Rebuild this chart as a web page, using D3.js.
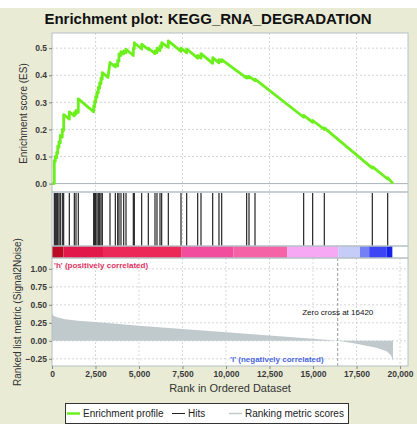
<!DOCTYPE html>
<html>
<head>
<meta charset="utf-8">
<script src="https://cdn.jsdelivr.net/npm/d3@7"></script>
<style>
  html, body { margin: 0; padding: 0; background: #fff; }
  svg { display: block; font-family: "Liberation Sans", Arial, sans-serif; }
</style>
</head>
<body>
<div id="chart"></div>
<script>
// running enrichment score (rank, ES)
const esRanks = [0, 132, 132, 190, 190, 270, 270, 328, 328, 402, 402, 477, 477, 592, 592, 672, 672,
    994, 994, 1282, 1282, 1379, 1379, 1511, 1511, 2396, 2396, 2454, 2454, 2511, 2511, 2586, 2586,
    2661, 2661, 2741, 2741, 2816, 2816, 2891, 2891, 3218, 3333, 3638, 3638, 3776, 3776, 3850, 3850,
    3965, 3965, 4121, 4121, 4253, 4253, 4672, 4672, 4730, 4730, 5155, 5155, 5534, 5534, 5919, 5919,
    6034, 6034, 6207, 6207, 6304, 6304, 6684, 6684, 7414, 7414, 7741, 7741, 8374, 8374, 8563, 8563,
    9236, 9236, 9597, 9597, 9753, 9753, 11189, 11189, 11322, 11322, 11667, 11667, 14465, 14465,
    14982, 14982, 15649, 15649, 18408, 18408, 19293, 19293, 19600];
const esScores = [0, 0, 0.085, 0.082, 0.10, 0.096, 0.115, 0.112, 0.138, 0.134, 0.155, 0.151, 0.178, 0.172, 0.20, 0.196, 0.255,
    0.238, 0.265, 0.25, 0.262, 0.257, 0.27, 0.263, 0.313, 0.265, 0.286, 0.283, 0.304, 0.301, 0.322, 0.318, 0.339,
    0.335, 0.356, 0.352, 0.373, 0.369, 0.39, 0.386, 0.41, 0.392, 0.447, 0.431, 0.44, 0.434, 0.455, 0.452, 0.479,
    0.473, 0.487, 0.479, 0.49, 0.483, 0.496, 0.473, 0.50, 0.497, 0.52, 0.497, 0.515, 0.495, 0.50, 0.48, 0.49,
    0.484, 0.50, 0.491, 0.508, 0.503, 0.52, 0.503, 0.527, 0.488, 0.50, 0.483, 0.497, 0.463, 0.473, 0.463, 0.48,
    0.444, 0.465, 0.446, 0.458, 0.45, 0.458, 0.389, 0.396, 0.39, 0.396, 0.38, 0.386, 0.245, 0.252,
    0.226, 0.233, 0.2, 0.206, 0.057, 0.063, 0.017, 0.022, 0];

// positions of gene set members in the ranked list
const hits = [132, 190, 270, 328, 402, 477, 592, 672, 994, 1282, 1379, 1511, 2396, 2454, 2511, 2586,
    2661, 2741, 2816, 2891, 3333, 3638, 3776, 3850, 3965, 4121, 4253, 4672, 4730, 5155, 5534, 5919,
    6034, 6207, 6304, 6684, 7414, 7741, 8374, 8563, 9236, 9597, 9753, 11189, 11322, 11667, 14465,
    14982, 15649, 18408, 19293];

// ranked list metric (signal2noise) along the list
const metricRanks = [0, 60, 250, 750, 1500, 2500, 5000, 7500, 10000, 12500, 15000, 16420, 17500, 18700, 19250, 19480, 19580, 19600];
const metricValues = [0.39, 0.35, 0.33, 0.30, 0.28, 0.26, 0.21, 0.165, 0.12, 0.075, 0.03, 0, -0.04, -0.1, -0.15, -0.2, -0.27, -0.27];

// heat bar segment edges along the rank axis
const barEdges = [0, 660, 2930, 7450, 10420, 13520, 16450, 17700, 18230, 19230, 19560];

const zeroCross = 16420;
const xTicks = [0, 2500, 5000, 7500, 10000, 12500, 15000, 17500, 20000];
const esGridX = [2500, 7500, 12500, 17500];
const esTicks = [0, 0.1, 0.2, 0.3, 0.4, 0.5];
const metricTicks = [-0.25, 0, 0.25, 0.5, 0.75, 1];

const barColors = ["#bc0a24", "#e3184a", "#ec2858", "#f24c9e", "#f562a6", "#f6a8f4", "#c6ccf8", "#7480f6", "#3c44f4", "#1222ea"];

const W = 417, H = 424;
const left = 52, right = 408;
const esTop = 33, esBottom = 192, hitBottom = 246, barBottom = 258, mBottom = 366;
const frameColor = "#b4c0c6";
const gridColor = "#d4d8da";

const svg = d3.select("#chart").append("svg")
    .attr("width", W)
    .attr("height", H);

svg.append("rect").attr("x", 0).attr("y", 8).attr("width", W).attr("height", H - 8).attr("fill", "#e9ebd5");

const x = d3.scaleLinear().domain([0, 20460]).range([left, right]);
const yES = d3.scaleLinear().domain([-0.031, 0.556]).range([esBottom, esTop]);
const yM = d3.scaleLinear().domain([-0.35, 1.15]).range([mBottom, barBottom]);

// panels
svg.append("rect").attr("x", left).attr("y", esTop).attr("width", right - left).attr("height", mBottom - esTop).attr("fill", "#fff");

// ES panel grid
svg.append("g").selectAll("line").data(esTicks.slice(1)).join("line")
    .attr("x1", left).attr("x2", right)
    .attr("y1", d => yES(d)).attr("y2", d => yES(d))
    .attr("stroke", gridColor).attr("stroke-dasharray", "2,2");
svg.append("g").selectAll("line").data(esGridX).join("line")
    .attr("x1", d => x(d)).attr("x2", d => x(d))
    .attr("y1", esTop).attr("y2", hitBottom)
    .attr("stroke", gridColor).attr("stroke-dasharray", "2,2");
svg.append("line")
    .attr("x1", left).attr("x2", right).attr("y1", yES(0)).attr("y2", yES(0))
    .attr("stroke", "#a8b4ba");

// metric panel grid
svg.append("g").selectAll("line").data(metricTicks).join("line")
    .attr("x1", left).attr("x2", right)
    .attr("y1", d => yM(d)).attr("y2", d => yM(d))
    .attr("stroke", gridColor).attr("stroke-dasharray", "2,2");
svg.append("g").selectAll("line").data(xTicks.slice(1)).join("line")
    .attr("x1", d => x(d)).attr("x2", d => x(d))
    .attr("y1", barBottom).attr("y2", mBottom)
    .attr("stroke", gridColor).attr("stroke-dasharray", "2,2");

// ES curve
svg.append("path")
    .datum(esRanks.map((r, i) => [r, esScores[i]]))
    .attr("fill", "none")
    .attr("stroke", "#6cf01c")
    .attr("stroke-width", 2.8)
    .attr("stroke-linejoin", "round")
    .attr("d", d3.line().x(d => x(d[0])).y(d => yES(d[1])));

// hits
svg.append("g").selectAll("line").data(hits).join("line")
    .attr("x1", d => x(d)).attr("x2", d => x(d))
    .attr("y1", esBottom + 1).attr("y2", hitBottom)
    .attr("stroke", "#111").attr("stroke-width", 1.1);

// heat bar
svg.append("g").selectAll("rect").data(barColors).join("rect")
    .attr("x", (d, i) => x(barEdges[i]))
    .attr("width", (d, i) => x(barEdges[i + 1]) - x(barEdges[i]))
    .attr("y", hitBottom).attr("height", barBottom - hitBottom)
    .attr("fill", d => d);

// ranked metric area
svg.append("path")
    .datum(metricRanks.map((r, i) => [r, metricValues[i]]))
    .attr("fill", "#c0cacd")
    .attr("d", d3.area().x(d => x(d[0])).y0(yM(0)).y1(d => yM(d[1])));

// zero cross
svg.append("line")
    .attr("x1", x(zeroCross)).attr("x2", x(zeroCross))
    .attr("y1", barBottom).attr("y2", mBottom)
    .attr("stroke", "#999").attr("stroke-dasharray", "3,2");
svg.append("text")
    .attr("x", x(zeroCross)).attr("y", 315)
    .attr("text-anchor", "middle")
    .attr("font-size", "8px").attr("fill", "#111")
    .text("Zero cross at " + zeroCross);

svg.append("text")
    .attr("x", 54).attr("y", 268)
    .attr("font-size", "8px").attr("font-weight", "bold").attr("fill", "#e03060")
    .text("'h' (positively correlated)");
svg.append("text")
    .attr("x", 230).attr("y", 361.5)
    .attr("font-size", "8px").attr("font-weight", "bold").attr("fill", "#4a66e0")
    .text("'l' (negatively correlated)");

// frames
[[esTop, esBottom], [esBottom, hitBottom], [hitBottom, barBottom], [barBottom, mBottom]].forEach(([a, b]) => {
    svg.append("rect")
        .attr("x", left).attr("y", a).attr("width", right - left).attr("height", b - a)
        .attr("fill", "none").attr("stroke", frameColor);
});

// axes
const esAxis = svg.append("g")
    .attr("transform", `translate(${left},0)`)
    .call(d3.axisLeft(yES).tickValues(esTicks).tickFormat(d3.format(".1f")).tickSize(3).tickPadding(2));
const mAxis = svg.append("g")
    .attr("transform", `translate(${left},0)`)
    .call(d3.axisLeft(yM).tickValues(metricTicks).tickFormat(d3.format(".2f")).tickSize(3).tickPadding(2));
const xAxis = svg.append("g")
    .attr("transform", `translate(0,${mBottom})`)
    .call(d3.axisBottom(x).tickValues(xTicks).tickFormat(d3.format(",")).tickSize(3).tickPadding(2));

[esAxis, mAxis, xAxis].forEach(g => {
    g.select(".domain").remove();
    g.selectAll("line").attr("stroke", "#888");
    g.selectAll("text")
        .attr("font-size", "8.5px")
        .attr("font-weight", "bold")
        .attr("fill", "#3a3a3a")
        .attr("font-family", "Liberation Sans, Arial, sans-serif");
});

// titles
svg.append("text")
    .attr("x", 208).attr("y", 23.5)
    .attr("text-anchor", "middle")
    .attr("font-size", "15px").attr("font-weight", "bold").attr("fill", "#111")
    .text("Enrichment plot: KEGG_RNA_DEGRADATION");

svg.append("text")
    .attr("transform", `translate(26.5,${(esTop + esBottom) / 2 + 1}) rotate(-90)`)
    .attr("text-anchor", "middle")
    .attr("font-size", "10px").attr("fill", "#333")
    .text("Enrichment score (ES)");

svg.append("text")
    .attr("transform", `translate(21,${(barBottom + mBottom) / 2}) rotate(-90)`)
    .attr("text-anchor", "middle")
    .attr("font-size", "10px").attr("fill", "#333")
    .text("Ranked list metric (Signal2Noise)");

svg.append("text")
    .attr("x", (left + right) / 2).attr("y", 392)
    .attr("text-anchor", "middle")
    .attr("font-size", "11px").attr("fill", "#333")
    .text("Rank in Ordered Dataset");

// legend
const legend = svg.append("g");
legend.append("rect")
    .attr("x", 65.5).attr("y", 403.5).attr("width", 283).attr("height", 20)
    .attr("fill", "#fff").attr("stroke", "#333");
const legendItems = [
    { label: "Enrichment profile", color: "#6cf01c", width: 2.5, x: 67 },
    { label: "Hits", color: "#222", width: 1, x: 172 },
    { label: "Ranking metric scores", color: "#c0cacd", width: 1.5, x: 229 }
];
legendItems.forEach(d => {
    legend.append("line")
        .attr("x1", d.x).attr("x2", d.x + 13).attr("y1", 413.5).attr("y2", 413.5)
        .attr("stroke", d.color).attr("stroke-width", d.width);
    legend.append("text")
        .attr("x", d.x + 16).attr("y", 417)
        .attr("font-size", "10px").attr("fill", "#222")
        .text(d.label);
});
</script>
</body>
</html>
